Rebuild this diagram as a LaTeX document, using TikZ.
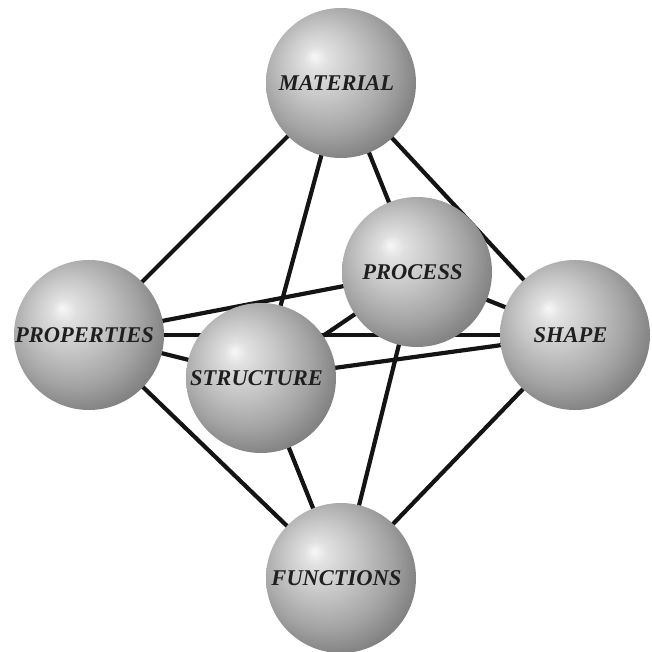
\documentclass[tikz,border=0pt]{standalone}
\usepackage{fontspec}
\setmainfont{Liberation Serif}
\usetikzlibrary{backgrounds}
\pgfdeclareradialshading{spheresh}{\pgfpoint{-9bp}{9bp}}{%
  color(0bp)=(black!3);
  color(4bp)=(black!12);
  color(12bp)=(black!22);
  color(22bp)=(black!36);
  color(30bp)=(black!50);
  color(38bp)=(black!60);
  color(50bp)=(black!64)}
\newcommand{\balltext}[1]{\hspace*{-9pt}#1}
\begin{document}
\begin{tikzpicture}[x=1pt,y=-1pt,
  ball/.style={circle, minimum size=150pt, inner sep=0pt, shading=spheresh,
    font=\fontsize{22.5}{22.5}\selectfont\bfseries\itshape, text=black!88},
  link/.style={line width=4.2pt, draw=black!92}]
\useasboundingbox (0,0) rectangle (652,652);
\node[ball] (mat)  at (341,83)  {\balltext{MATERIAL}};
\node[ball] (prop) at (89,335)  {\balltext{PROPERTIES}};
\node[ball] (shp)  at (575,335) {\balltext{SHAPE}};
\node[ball] (fun)  at (341,578) {\balltext{FUNCTIONS}};
\node[ball] (proc) at (417,272) {\balltext{PROCESS}};
\node[ball] (str)  at (261,378) {\balltext{STRUCTURE}};
\begin{scope}[on background layer]
  \draw[link] (mat.center) -- (prop.center);
  \draw[link] (mat.center) -- (str.center);
  \draw[link] (mat.center) -- (proc.center);
  \draw[link] (mat.center) -- (shp.center);
  \draw[link] (prop.center) -- (proc.center);
  \draw[link] (prop.center) -- (shp.center);
  \draw[link] (prop.center) -- (str.center);
  \draw[link] (str.center) -- (shp.center);
  \draw[link] (str.center) -- (proc.center);
  \draw[link] (proc.center) -- (shp.center);
  \draw[link] (fun.center) -- (prop.center);
  \draw[link] (fun.center) -- (str.center);
  \draw[link] (fun.center) -- (proc.center);
  \draw[link] (fun.center) -- (shp.center);
\end{scope}
\end{tikzpicture}
\end{document}
